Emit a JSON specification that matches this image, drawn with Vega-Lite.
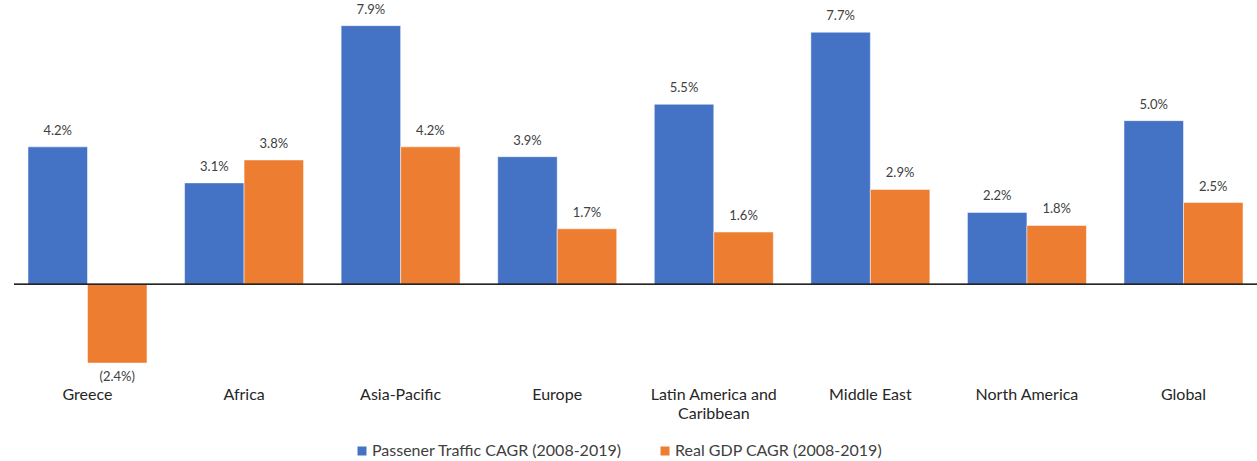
{
  "$schema": "https://vega.github.io/schema/vega-lite/v6.json",
  "width": 1243,
  "height": 380,
  "autosize": "none",
  "padding": {"left": 14, "top": 6, "right": 0, "bottom": 75},
  "background": "white",
  "config": {"view": {"stroke": null}, "font": "Lato"},
  "data": {
    "values": [
      {"region": "Greece", "series": "Passener Traffic CAGR (2008-2019)", "value": 4.2},
      {"region": "Greece", "series": "Real GDP CAGR (2008-2019)", "value": -2.4},
      {"region": "Africa", "series": "Passener Traffic CAGR (2008-2019)", "value": 3.1},
      {"region": "Africa", "series": "Real GDP CAGR (2008-2019)", "value": 3.8},
      {"region": "Asia-Pacific", "series": "Passener Traffic CAGR (2008-2019)", "value": 7.9},
      {"region": "Asia-Pacific", "series": "Real GDP CAGR (2008-2019)", "value": 4.2},
      {"region": "Europe", "series": "Passener Traffic CAGR (2008-2019)", "value": 3.9},
      {"region": "Europe", "series": "Real GDP CAGR (2008-2019)", "value": 1.7},
      {"region": "Latin America and Caribbean", "series": "Passener Traffic CAGR (2008-2019)", "value": 5.5},
      {"region": "Latin America and Caribbean", "series": "Real GDP CAGR (2008-2019)", "value": 1.6},
      {"region": "Middle East", "series": "Passener Traffic CAGR (2008-2019)", "value": 7.7},
      {"region": "Middle East", "series": "Real GDP CAGR (2008-2019)", "value": 2.9},
      {"region": "North America", "series": "Passener Traffic CAGR (2008-2019)", "value": 2.2},
      {"region": "North America", "series": "Real GDP CAGR (2008-2019)", "value": 1.8},
      {"region": "Global", "series": "Passener Traffic CAGR (2008-2019)", "value": 5.0},
      {"region": "Global", "series": "Real GDP CAGR (2008-2019)", "value": 2.5}
    ]
  },
  "transform": [
    {"calculate": "datum.value < 0 ? '(' + format(-datum.value, '.1f') + '%)' : format(datum.value, '.1f') + '%'", "as": "label"}
  ],
  "encoding": {
    "x": {
      "field": "region",
      "type": "nominal",
      "sort": null,
      "scale": {"paddingInner": 0.24, "paddingOuter": 0.0894},
      "axis": {
        "title": null,
        "orient": "bottom",
        "domain": false,
        "ticks": false,
        "labelAngle": 0,
        "labelFontSize": 16,
        "labelColor": "#262626",
        "labelPadding": 0,
        "labelLineHeight": 19,
        "labelExpr": "datum.label == 'Latin America and Caribbean' ? ['Latin America and', 'Caribbean'] : datum.label"
      }
    },
    "xOffset": {"field": "series", "type": "nominal", "scale": {"paddingInner": 0, "paddingOuter": 0}},
    "y": {
      "field": "value",
      "type": "quantitative",
      "scale": {"domain": [-3.1, 8.5], "nice": false, "zero": false},
      "axis": null
    }
  },
  "layer": [
    {
      "mark": {"type": "bar", "stroke": "white", "strokeWidth": 0.5},
      "encoding": {
        "color": {
          "field": "series",
          "type": "nominal",
          "scale": {"range": ["#4472C4", "#ED7D31"]},
          "legend": {
            "title": null,
            "orient": "none",
            "direction": "horizontal",
            "legendX": 340,
            "legendY": 437,
            "symbolType": "square",
            "symbolSize": 81,
            "symbolStrokeWidth": 0,
            "symbolOpacity": 1,
            "labelFontSize": 16,
            "labelColor": "#404040",
            "labelLimit": 400,
            "labelOffset": 2,
            "columnPadding": 35,
            "symbolOffset": 0
          }
        }
      }
    },
    {
      "mark": {"type": "rule", "color": "#262626", "strokeWidth": 1},
      "encoding": {"y": {"datum": 0}, "x": null, "xOffset": null}
    },
    {
      "transform": [{"filter": "datum.value >= 0"}],
      "mark": {"type": "text", "baseline": "bottom", "dy": -9, "fontSize": 13, "color": "#404040"},
      "encoding": {"text": {"field": "label"}}
    },
    {
      "transform": [{"filter": "datum.value < 0"}],
      "mark": {"type": "text", "baseline": "top", "dy": 8, "fontSize": 13, "color": "#404040"},
      "encoding": {"text": {"field": "label"}}
    }
  ]
}
